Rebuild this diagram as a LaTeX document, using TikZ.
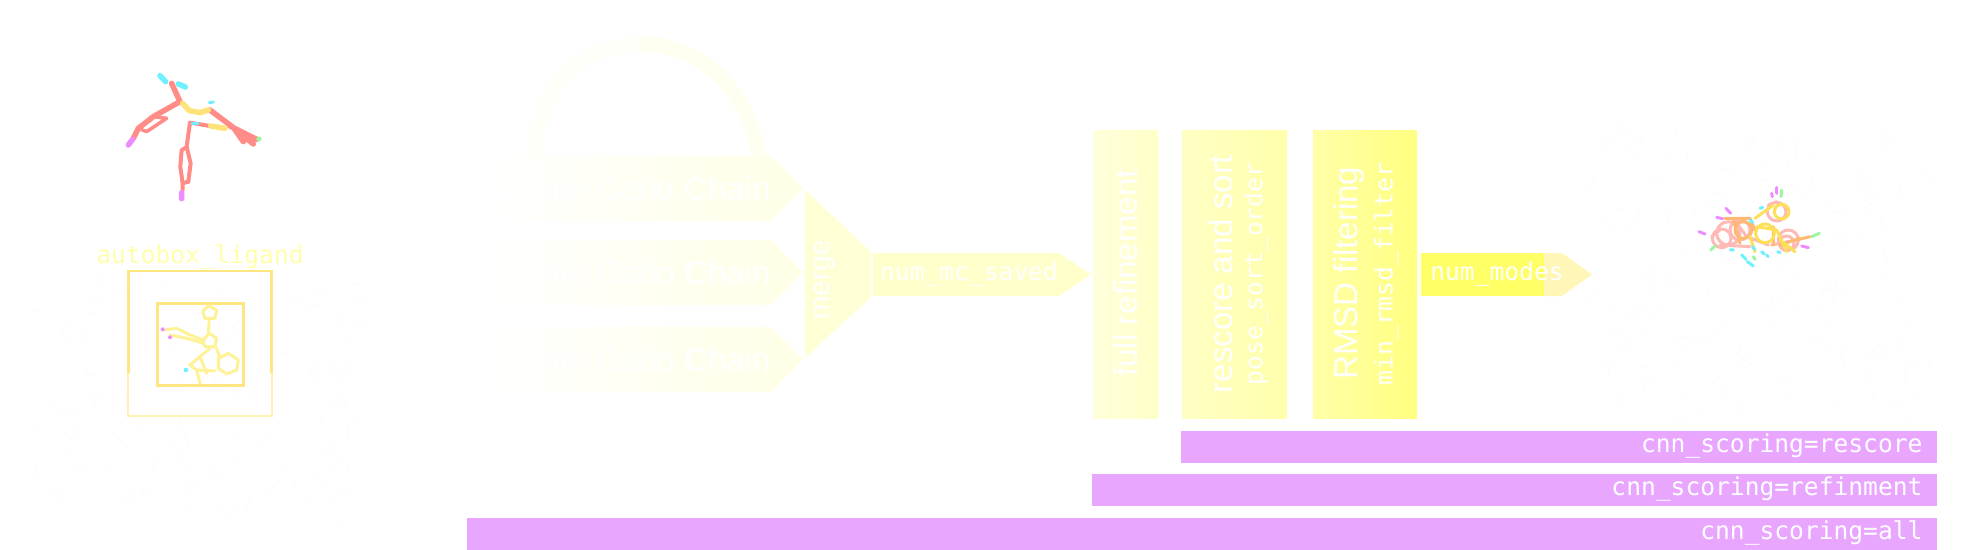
\documentclass[tikz,border=0pt]{standalone}
\usepackage{fontspec}
\setmainfont{Liberation Sans}
\newfontfamily\codefont{DejaVu Sans Mono}
\usepackage{tikz}
\definecolor{barpink}{RGB}{233,166,255}
\definecolor{boxgold}{RGB}{255,230,130}
\definecolor{atomred}{RGB}{255,140,135}
\definecolor{atomgold}{RGB}{255,226,120}
\definecolor{atomcyan}{RGB}{110,240,255}
\definecolor{atomviolet}{RGB}{236,140,255}
\definecolor{atomgreen}{RGB}{160,245,160}
\definecolor{proteingrey}{RGB}{253,253,255}
\tikzset{
    % white labels on the pipeline
    bigtext/.style={white,font=\fontsize{33}{33}\selectfont},
    codetext/.style={white,font=\codefont\fontsize{24.6}{24.6}\selectfont},
    % sticks of the molecules
    stick/.style={line width=5.5pt,line cap=round,line join=round,atomred},
    thinstick/.style={line width=3pt,line cap=round,line join=round}
}
\begin{document}
\begin{tikzpicture}[x=1pt,y=-1pt]
\useasboundingbox (0,0) rectangle (1961,549);

% faint protein behind the ligands
\pgfmathsetseed{7}
\foreach \i in {1,...,140}{
    \draw[proteingrey,line width=2pt] (40+rnd*320,280+rnd*240) -- ++(rnd*30-15,rnd*30-15);
    \draw[proteingrey,line width=2pt] (1590+rnd*340,130+rnd*290) -- ++(rnd*30-15,rnd*30-15);
}

% loop over the chains
\draw[line width=15pt,color={rgb,255:red,255;green,255;blue,249}] (640,44) .. controls (580,44) and (536,90) .. (536,156);
\draw[line width=15pt,color={rgb,255:red,255;green,255;blue,241}] (760,163) .. controls (752,95) and (705,44) .. (640,44);

% chains
\foreach \chainname/\ytop in {chaina/156,chainb/240,chainc/327}{
    \shade[left color=white,right color={rgb,255:red,255;green,255;blue,230}]
    (490,\ytop) -- (771,\ytop) -- (803,\ytop+32.5) -- (771,\ytop+65) -- (490,\ytop+65) -- cycle;
    \node[bigtext,anchor=east] (\chainname) at (774,\ytop+32.5) {Monte Carlo Chain};
}

% merge
\fill[color={rgb,255:red,255;green,255;blue,214}] (805,190) -- (871,252) -- (871,297) -- (805,358) -- cycle;
\node[white,rotate=90,font=\fontsize{28}{28}\selectfont] (merge) at (825,280) {merge};

\fill[color={rgb,255:red,255;green,255;blue,204}] (873,253) -- (1059,253) -- (1091,274.5) -- (1059,296) -- (873,296) -- cycle;
\node[codetext] (mcsaved) at (969,274) {num\_mc\_saved};

% refinement, rescoring, filtering
\shade[left color={rgb,255:red,255;green,255;blue,220},right color={rgb,255:red,255;green,255;blue,200}] (1093,130) rectangle (1158,418);
\node[bigtext,rotate=90] (refine) at (1126,273) {full refinement};

\shade[left color={rgb,255:red,255;green,255;blue,196},right color={rgb,255:red,255;green,255;blue,172}] (1182,130) rectangle (1287,418);
\node[bigtext,rotate=90] (rescore) at (1221,274) {rescore and sort};
\node[codetext,rotate=90] (sortorder) at (1256,274) {pose\_sort\_order};

\shade[left color={rgb,255:red,255;green,255;blue,168},right color={rgb,255:red,255;green,255;blue,128}] (1313,130) rectangle (1417,418);
\node[bigtext,rotate=90] (rmsd) at (1349,273) {RMSD filtering};
\node[codetext,rotate=90] (rmsdfilter) at (1386,274) {min\_rmsd\_filter};

\fill[color={rgb,255:red,255;green,255;blue,102}] (1421,253) rectangle (1544,296);
\fill[color={rgb,255:red,255;green,246;blue,184}] (1544,253) -- (1562,253) -- (1592,274.5) -- (1562,296) -- (1544,296) -- cycle;
\node[codetext] (nummodes) at (1497,274) {num\_modes};

% scoring bars
\foreach \barname/\xleft/\ytop/\bartext in {barrescore/1181/431/rescore,barrefine/1092/474/refinment,barall/467/518/all}{
    \fill[barpink] (\xleft,\ytop) rectangle (1937,\ytop+32);
    \node[codetext,anchor=east] (\barname) at (1926,\ytop+15) {cnn\_scoring=\bartext};
}

% receptor box
\node[codetext,color={rgb,255:red,255;green,255;blue,170}] (autobox) at (200,257) {autobox\_ligand};
\begin{scope}[shift={(0,40)},x=0.3333pt,y=-0.3333pt]
\draw[line width=2pt,boxgold!60!white] (385,1000) -- (385,1128) -- (815,1128) -- (815,1000);
\draw[line width=2.5pt,boxgold] (385,1000) -- (385,693) -- (815,693) -- (815,1000);
\draw[line width=3pt,boxgold] (473,790) rectangle (732,1036);

% ligand inside the box
\begin{scope}[thinstick,color={rgb,255:red,255;green,242;blue,150}]
\draw (608,815) -- (625,797) -- (650,810) -- (645,835) -- (615,835) -- cycle;
\draw (628,835) -- (625,880);
\draw (610,900) -- (628,880) -- (650,895) -- (645,920) -- (615,920) -- cycle;
\draw (495,870) -- (530,865) -- (570,885) -- (610,900) (510,885) -- (560,895) -- (610,910);
\draw (655,955) -- (685,940) -- (715,960) -- (710,990) -- (680,1002) -- (655,985) -- cycle;
\draw (630,925) -- (600,950) -- (570,975) -- (590,990) -- (600,1030);
\draw (650,925) -- (660,955) (590,990) -- (645,993) (600,950) -- (620,1000);
\end{scope}
\fill[atomviolet] (488,868) circle (6) (510,892) circle (6);
\fill[atomcyan] (558,990) circle (7);
\end{scope}

% top ligand
\begin{scope}[shift={(0,40)},x=0.3333pt,y=-0.3333pt]
\draw[stick] (515,130) -- (540,185) -- (460,230) -- (415,265) -- (400,295);
\draw[stick,line width=3.5pt] (460,230) -- (500,235) -- (440,275) -- (415,265);
\draw[stick] (630,210) -- (690,255) -- (760,312) (690,258) -- (770,298) (700,262) -- (730,305);
\fill[atomred] (690,255) -- (770,298) -- (760,314) -- cycle;
\draw[stick,line width=4pt] (630,258) -- (570,248) -- (560,320) -- (572,370) -- (565,425);
\draw[stick,line width=4pt] (560,322) -- (545,330) -- (541,380) -- (548,430) -- (565,425) (548,430) -- (548,450);
\draw[stick,atomgold] (548,190) -- (568,212) -- (600,218) -- (625,210) (632,258) -- (675,265);
\draw[stick,atomviolet] (398,298) -- (385,315) (545,458) -- (545,476);
\draw[stick,atomcyan] (480,107) -- (497,125) (535,132) -- (556,141);
\draw[stick,atomcyan,line width=3pt] (628,188) -- (640,186) (576,251) -- (594,250);
\fill[atomgreen] (777,297) circle (8);
\end{scope}

% docked poses
\begin{scope}[shift={(1640,130)},x=0.3333pt,y=-0.3333pt]
\begin{scope}[thinstick]
\draw[atomred!60!white] (265,310) circle (35) (245,325) circle (28) (410,245) circle (28) (445,330) circle (30) (300,300) circle (30) (440,340) circle (22);
\draw[atomred!60!white] (215,320) -- (240,300) (280,265) -- (320,320) -- (385,345) (395,345) -- (470,330) (385,225) -- (410,215) (240,345) -- (330,350);
\draw[orange!55!white] (310,300) circle (25) (255,265) -- (330,265) -- (345,300) (400,290) -- (400,345) (470,330) -- (510,320) (280,270) -- (300,340) (420,345) -- (480,325);
\draw[yellow!70!orange!65!white] (375,310) circle (28) (425,245) circle (22) (330,320) -- (345,365) (420,330) -- (465,365) (345,265) -- (400,225) (350,290) -- (410,300) -- (440,365);
\end{scope}
\draw[stick,line width=3pt,atomviolet] (395,190) -- (397,200) (410,172) -- (410,190) (258,235) -- (272,250) (230,262) -- (248,266) (177,305) -- (195,312) (485,348) -- (505,353);
\draw[stick,line width=3pt,atomgreen] (425,180) -- (423,200) (212,360) -- (225,348) (515,320) -- (538,310) (340,380) -- (345,388);
\draw[stick,line width=3pt,atomcyan] (305,375) -- (318,388) (322,395) -- (340,408) (270,360) -- (280,360) (360,235) -- (368,232) (330,270) -- (338,278) (380,375) -- (384,380) (365,365) -- (372,372) (413,365) -- (420,368) (338,350) -- (344,358);
\end{scope}
\end{tikzpicture}
\end{document}
